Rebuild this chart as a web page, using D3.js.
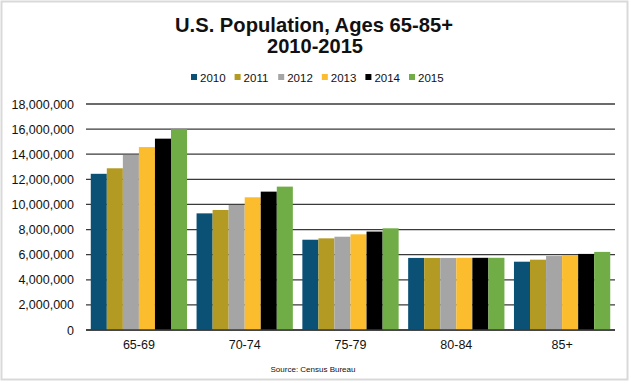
<!DOCTYPE html>
<html>
<head>
<meta charset="utf-8">
<script src="https://cdn.jsdelivr.net/npm/d3@7"></script>
<style>
html,body{margin:0;padding:0;background:#fff;}
svg{display:block;}
</style>
</head>
<body>
<svg id="chart" width="631" height="383"></svg>
<script>
const categories = ["65-69", "70-74", "75-79", "80-84", "85+"];
const years = ["2010", "2011", "2012", "2013", "2014", "2015"];
const colors = ["#0b5075", "#b39a22", "#a5a5a5", "#fbbd2d", "#000000", "#70ad47"];
const v2010 = [12440000, 9290000, 7190000, 5740000, 5440000];
const v2011 = [12880000, 9560000, 7300000, 5740000, 5600000];
const v2012 = [13940000, 9960000, 7430000, 5740000, 5890000];
const v2013 = [14570000, 10570000, 7620000, 5750000, 5970000];
const v2014 = [15240000, 11020000, 7840000, 5750000, 6060000];
const v2015 = [16000000, 11420000, 8100000, 5750000, 6220000];
const series = [v2010, v2011, v2012, v2013, v2014, v2015];
const yTicks = [0, 2000000, 4000000, 6000000, 8000000, 10000000, 12000000, 14000000, 16000000, 18000000];

const svg = d3.select("#chart");
const font = "'Liberation Sans', Arial, sans-serif";

// frame
svg.append("rect").attr("x", 1.5).attr("y", 1.5).attr("width", 626).attr("height", 378)
  .attr("fill", "#fff").attr("stroke", "#d9d9d9").attr("stroke-width", 2);

const pL = 86, pR = 615, pT = 104, pB = 330;
const x0 = d3.scaleBand().domain(categories).range([pL, pR]).paddingInner(0.09).paddingOuter(0.045);
const x1 = d3.scaleBand().domain(years).range([0, x0.bandwidth()]).padding(0);
const y = d3.scaleLinear().domain([0, 18000000]).range([pB, pT]);

// gridlines
svg.append("g").selectAll("line").data(yTicks).join("line")
  .attr("x1", pL).attr("x2", pR)
  .attr("y1", d => y(d)).attr("y2", d => y(d))
  .attr("stroke", "#3a3a3a").attr("stroke-width", 1.3);

// y axis labels
const yAxis = d3.axisLeft(y).tickValues(yTicks).tickSize(0).tickPadding(0)
  .tickFormat(d => d3.format(",")(d));
const ya = svg.append("g").attr("transform", `translate(${pL - 12},0)`).call(yAxis);
ya.select(".domain").remove();
ya.selectAll("text").attr("font-family", font).attr("font-size", "12.5px").attr("fill", "#111");

// bars
const groups = svg.append("g").selectAll("g").data(categories).join("g")
  .attr("transform", d => `translate(${x0(d)},0)`);
groups.selectAll("rect").data((c, ci) => years.map((yr, si) => ({yr, si, v: series[si][ci]})))
  .join("rect")
  .attr("x", d => x1(d.yr))
  .attr("width", x1.bandwidth())
  .attr("y", d => y(d.v))
  .attr("height", d => y(0) - y(d.v))
  .attr("fill", d => colors[d.si]);

// baseline
svg.append("line").attr("x1", pL).attr("x2", pR).attr("y1", y(0)).attr("y2", y(0))
  .attr("stroke", "#3a3a3a").attr("stroke-width", 1.3);

// x axis labels
const xAxis = d3.axisBottom(x0).tickSize(0).tickPadding(10);
const xa = svg.append("g").attr("transform", `translate(0,${pB})`).call(xAxis);
xa.select(".domain").remove();
xa.selectAll("text").attr("font-family", font).attr("font-size", "12.5px").attr("fill", "#111");

// title
svg.append("text").attr("x", 314).attr("y", 32).attr("text-anchor", "middle")
  .attr("font-family", font).attr("font-weight", "bold").attr("font-size", "21px").attr("fill", "#111")
  .attr("textLength", 278).attr("lengthAdjust", "spacingAndGlyphs")
  .text("U.S. Population, Ages 65-85+");
svg.append("text").attr("x", 315).attr("y", 53).attr("text-anchor", "middle")
  .attr("font-family", font).attr("font-weight", "bold").attr("font-size", "21px").attr("fill", "#111")
  .attr("textLength", 96).attr("lengthAdjust", "spacingAndGlyphs")
  .text("2010-2015");

// legend
const lg = svg.append("g").selectAll("g").data(years).join("g")
  .attr("transform", (d, i) => `translate(${191 + i * 43.6},77)`);
lg.append("rect").attr("x", 0).attr("y", -3).attr("width", 6).attr("height", 6)
  .attr("fill", (d, i) => colors[i]);
lg.append("text").attr("x", 9).attr("y", 4.5).attr("font-family", font).attr("font-size", "11.5px")
  .attr("fill", "#111").text(d => d);

// source
svg.append("text").attr("x", 313).attr("y", 372).attr("text-anchor", "middle")
  .attr("font-family", font).attr("font-size", "8px").attr("fill", "#111")
  .text("Source:  Census Bureau");
</script>
</body>
</html>
